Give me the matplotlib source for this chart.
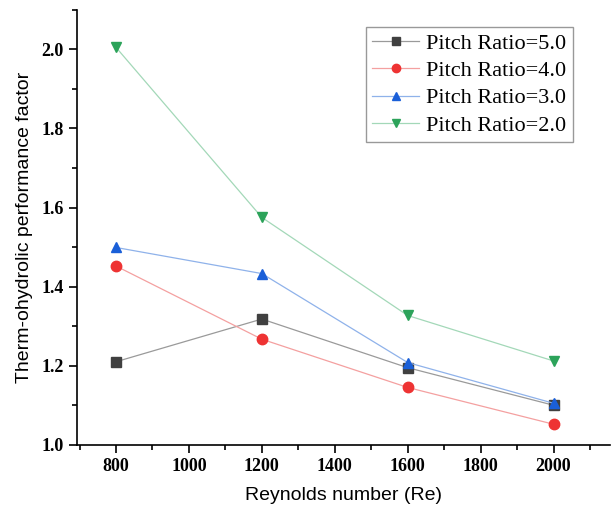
import matplotlib.pyplot as plt
from matplotlib.ticker import MultipleLocator

# data
re = [800, 1200, 1600, 2000]
pr50 = [1.21, 1.318, 1.195, 1.10]
pr40 = [1.452, 1.267, 1.145, 1.052]
pr30 = [1.499, 1.433, 1.208, 1.105]
pr20 = [2.005, 1.575, 1.327, 1.212]
labels = ['Pitch Ratio=5.0', 'Pitch Ratio=4.0', 'Pitch Ratio=3.0', 'Pitch Ratio=2.0']

fig = plt.figure(figsize=(6.11, 5.16), dpi=100)
ax = fig.add_axes([0.126, 0.138, 0.873, 0.843])

# (values, line colour, marker colour, marker)
styles = [
    (pr50, '#9a9a9a', '#404040', 's'),
    (pr40, '#f4a0a0', '#ee3333', 'o'),
    (pr30, '#8fb2ea', '#1a5fd8', '^'),
    (pr20, '#a3d8b8', '#2ca35a', 'v'),
]
for (vals, lc, mc, m), lab in zip(styles, labels):
    ax.plot(re, vals, color=lc, lw=0.9, marker=m, ms=7.5,
            mfc=mc, mec=mc, label=lab)

ax.set_xlim(693, 2156)
ax.set_ylim(1.0, 2.1)
ax.xaxis.set_major_locator(MultipleLocator(200))
ax.xaxis.set_minor_locator(MultipleLocator(100))
ax.yaxis.set_major_locator(MultipleLocator(0.2))
ax.yaxis.set_minor_locator(MultipleLocator(0.1))

ax.spines['right'].set_visible(False)
ax.spines['top'].set_visible(False)
ax.spines['left'].set_linewidth(1.2)
ax.spines['bottom'].set_linewidth(1.2)
ax.tick_params(which='major', direction='out', length=6, width=1.2)
ax.tick_params(which='minor', direction='out', length=3.5, width=1.2)

for t in ax.get_xticklabels() + ax.get_yticklabels():
    t.set_fontfamily('Liberation Serif')
    t.set_fontweight('bold')
    t.set_fontsize(13)

ax.set_xlabel('Reynolds number (Re)', fontfamily='Liberation Sans', fontsize=14, labelpad=9)
ax.set_ylabel('Therm-ohydrolic performance factor', fontfamily='Liberation Sans', fontsize=14, labelpad=6)

leg = ax.legend(loc='upper right', bbox_to_anchor=(0.929, 0.961), fancybox=False,
                edgecolor='#999999', framealpha=1, markerscale=0.8,
                prop={'family': 'Liberation Serif', 'size': 16},
                handlelength=2.1, borderpad=0.3, labelspacing=0.3,
                handletextpad=0.3, borderaxespad=0)
leg.get_frame().set_linewidth(1.0)

fig.savefig('out.png', dpi=100)
